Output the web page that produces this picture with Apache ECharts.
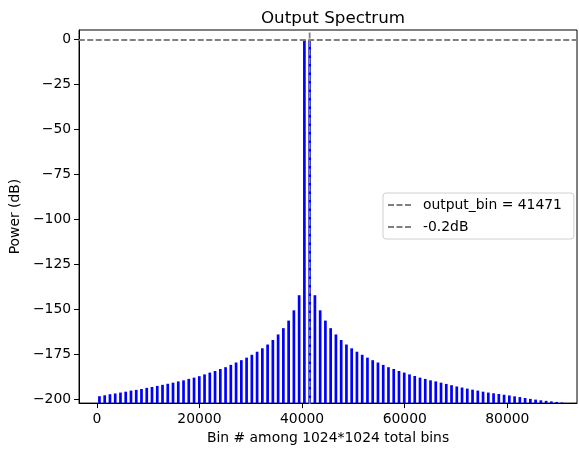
<!DOCTYPE html>
<html>
<head>
<meta charset="utf-8">
<script src="https://cdn.jsdelivr.net/npm/echarts@6/dist/echarts.min.js"></script>
<style>
html,body{margin:0;padding:0;background:#fff;}
#c{width:579px;height:450px;}
</style>
</head>
<body>
<div id="c"></div>
<script>
// ---- data ----
const bins = [511, 1535, 2559, 3583, 4607, 5631, 6655, 7679, 8703, 9727, 10751, 11775, 12799, 13823, 14847, 15871, 16895, 17919, 18943, 19967, 20991, 22015, 23039, 24063, 25087, 26111, 27135, 28159, 29183, 30207, 31231, 32255, 33279, 34303, 35327, 36351, 37375, 38399, 39423, 40447, 41471, 42495, 43519, 44543, 45567, 46591, 47615, 48639, 49663, 50687, 51711, 52735, 53759, 54783, 55807, 56831, 57855, 58879, 59903, 60927, 61951, 62975, 63999, 65023, 66047, 67071, 68095, 69119, 70143, 71167, 72191, 73215, 74239, 75263, 76287, 77311, 78335, 79359, 80383, 81407, 82431, 83455, 84479, 85503, 86527, 87551, 88575, 89599, 90623];
const power = [-198.1, -197.6, -197.0, -196.6, -196.1, -195.6, -195.0, -194.6, -194.1, -193.5, -193.0, -192.4, -191.8, -191.2, -190.6, -189.9, -189.3, -188.5, -187.8, -187.0, -186.0, -185.0, -184.1, -183.0, -182.0, -180.7, -179.4, -178.1, -176.7, -175.1, -173.4, -171.5, -169.4, -166.9, -163.8, -160.3, -156.1, -150.4, -142.0,
  0.0, -0.2,
  -142.0, -150.4, -156.1, -160.3, -163.8, -166.9, -169.4, -171.5, -173.4, -175.1, -176.7, -178.1, -179.4, -180.7, -182.0, -183.0, -184.1, -185.0, -186.0, -186.9, -187.8, -188.5, -189.3, -189.9, -190.6, -191.3, -192.0, -192.7, -193.3, -193.9, -194.5, -195.0, -195.6, -196.1, -196.5, -196.9, -197.3, -197.7, -198.2,
  -198.6, -199.1, -199.6, -200.0, -200.4, -200.7, -201.0, -201.3, -201.6];
const outputBin = 41471;
const outputLevel = -0.2;
const xTicks = [0, 20000, 40000, 60000, 80000];
const yTicks = [0, -25, -50, -75, -100, -125, -150, -175, -200];
const legendNames = ['output_bin = 41471', '-0.2dB'];

const xMin = -3465, xMax = 93570;
const yMin = -201.95, yMax = 5.37;

const fmt = v => (v < 0 ? '\u2212' + Math.abs(v) : String(v));
const FONT = 'DejaVu Sans';
const FS = 13.9;

const chart = echarts.init(document.getElementById('c'), null, {renderer: 'canvas'});
chart.setOption({
  animation: false,
  backgroundColor: '#fff',
  title: {
    text: 'Output Spectrum', left: 328, top: 5, textAlign: 'center',
    textStyle: {fontFamily: FONT, fontSize: 16.7, fontWeight: 'normal', color: '#000'}
  },
  grid: {left: 79, right: 2, top: 30, bottom: 45.5, show: true, borderColor: '#000', borderWidth: 1, backgroundColor: 'transparent'},
  legend: {
    orient: 'vertical', left: 383, top: 193,
    data: legendNames,
    itemWidth: 24, itemHeight: 10, itemGap: 8,
    padding: [5, 12, 5, 4],
    backgroundColor: '#fff', borderColor: '#d0d0d0', borderWidth: 1, borderRadius: 3,
    itemStyle: {opacity: 0},
    textStyle: {fontFamily: FONT, fontSize: FS, color: '#000', padding: [0, 0, 0, 6]}
  },
  xAxis: {
    type: 'value', min: xMin, max: xMax,
    name: 'Bin # among 1024*1024 total bins', nameLocation: 'middle', nameGap: 24,
    nameTextStyle: {fontFamily: FONT, fontSize: FS, color: '#000'},
    axisLine: {show: true, onZero: false, lineStyle: {color: '#000', width: 1}},
    axisTick: {show: true, length: 5, customValues: xTicks, lineStyle: {color: '#000'}},
    axisLabel: {customValues: xTicks, margin: 9, fontFamily: FONT, fontSize: FS, color: '#000', formatter: fmt},
    splitLine: {show: false}
  },
  yAxis: {
    type: 'value', min: yMin, max: yMax,
    name: 'Power (dB)', nameLocation: 'middle', nameGap: 53, nameRotate: 90,
    nameTextStyle: {fontFamily: FONT, fontSize: FS, color: '#000'},
    axisLine: {show: true, onZero: false, lineStyle: {color: '#000', width: 1}},
    axisTick: {show: true, length: 5, customValues: yTicks, lineStyle: {color: '#000'}},
    axisLabel: {customValues: yTicks, margin: 8, fontFamily: FONT, fontSize: FS, color: '#000', formatter: fmt},
    splitLine: {show: false}
  },
  series: [
    {
      type: 'custom', name: 'spectrum', clip: true, z: 2,
      data: bins.map((b, i) => [b, power[i]]),
      renderItem: function (params, api) {
        const x = api.value(0), y = api.value(1);
        const p1 = api.coord([x, yMin]);
        const p2 = api.coord([x, y]);
        return {type: 'line', shape: {x1: p1[0], y1: p1[1], x2: p2[0], y2: p2[1]},
                style: {stroke: '#0000ff', lineWidth: 2.7}};
      }
    },
    {
      type: 'line', name: legendNames[0], z: 3, symbol: 'none', clip: true,
      data: [[outputBin, yMin - 10], [outputBin, yMax + 10]],
      lineStyle: {color: '#808080', width: 1.8, type: [6, 2.5]},
      itemStyle: {color: '#808080'}
    },
    {
      type: 'line', name: legendNames[1], z: 3, symbol: 'none', clip: true,
      data: [[xMin - 10000, outputLevel], [xMax + 10000, outputLevel]],
      lineStyle: {color: '#808080', width: 1.8, type: [6, 2.5]},
      itemStyle: {color: '#808080'}
    }
  ]
});
</script>
</body>
</html>
